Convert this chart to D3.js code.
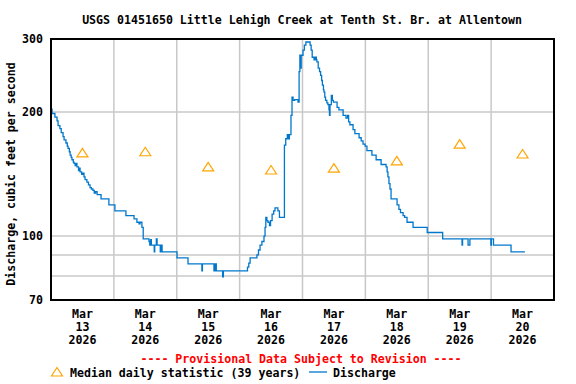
<!DOCTYPE html>
<html lang="en">
<head>
<meta charset="UTF-8">
<title>USGS 01451650 Discharge</title>
<script src="https://d3js.org/d3.v7.min.js"></script>
<style>
    body { margin: 0; background: #fff; }
    svg { display: block; }
    text { font-family: "DejaVu Sans Mono", monospace; font-weight: bold; font-size: 11.6px; fill: #000; }
</style>
</head>
<body>
<svg id="chart" width="576" height="384"></svg>
<script>
// hours since Mar 13 2026 00:00 and discharge (cfs), 15-min record thinned to its steps
const flowHours = [
    0.0, 0.4, 1.5, 2.3, 2.7, 3.4, 3.9, 4.6, 5.0, 5.7, 6.2, 6.5, 7.0, 7.3, 7.7, 8.0, 8.5, 8.8, 9.2, 9.5,
    9.9, 10.5, 10.8, 11.1, 11.7, 12.2, 12.6, 13.0, 13.7, 14.3, 14.9, 15.4, 16.0, 16.5, 17.0, 17.6, 19.1, 22.1, 24.4, 28.6,
    31.7, 32.8, 33.6, 34.0, 34.7, 35.2, 37.4, 37.7, 38.0, 38.3, 39.4, 39.6, 40.2, 40.5, 41.7, 41.9, 42.4, 48.1, 52.3, 57.6,
    57.8, 62.2, 62.6, 63.1, 65.5, 65.8, 75.0, 75.5, 76.0, 78.6, 79.2, 79.8, 80.5, 81.3, 81.7, 82.0, 82.4, 82.8, 83.4, 83.8,
    84.4, 85.0, 85.5, 86.6, 87.2, 89.1, 89.6, 90.2, 90.5, 91.0, 91.6, 92.0, 92.4, 93.0, 94.3, 94.7, 95.0, 95.2, 95.5, 96.2,
    96.7, 97.3, 98.9, 99.3, 99.7, 100.4, 100.8, 101.3, 101.5, 102.0, 102.5, 102.9, 103.3, 103.6, 104.0, 104.2, 104.5, 104.8, 105.3, 105.7,
    106.1, 106.3, 106.5, 107.0, 107.4, 107.8, 109.2, 109.9, 111.5, 112.6, 113.2, 113.6, 114.1, 115.3, 116.0, 117.6, 118.4, 119.1, 119.9, 120.6,
    122.5, 124.1, 126.0, 127.9, 128.3, 128.6, 129.0, 129.4, 129.8, 132.1, 132.8, 133.4, 134.4, 135.0, 135.9, 138.2, 143.6, 149.5, 156.9, 157.1,
    159.2, 159.9, 167.9, 168.1, 168.9, 169.5, 175.6, 180.9
];
const flowValues = [
    203, 198, 194, 190, 185, 182, 178, 174, 171, 168, 165, 163, 160, 157, 155, 153, 151, 150, 148, 150,
    147, 144, 146, 143, 141, 142, 139, 137, 135, 133, 131, 130, 129, 127, 128, 126, 123, 119, 115, 112,
    110, 108, 107, 108, 105, 98.4, 97, 95.1, 98, 95.1, 91.5, 95.1, 98.4, 95.1, 91.5, 95.1, 91.5, 88.5, 85.6, 82.3,
    85.6, 82.3, 85.6, 82.3, 79.6, 82.3, 84.1, 86, 88.5, 90, 92.5, 95.1, 97, 100, 105, 111, 109, 108, 106, 109,
    113, 115, 117, 115, 111, 166, 172, 176, 172, 176, 196, 217, 213, 214, 211, 250, 274, 255, 274, 282,
    290, 295, 290, 282, 271, 267, 271, 267, 264, 255, 250, 245, 238, 232, 226, 223, 217, 213, 210, 208,
    202, 196, 208, 219, 213, 211, 205, 202, 196, 193, 196, 189, 186, 181, 177, 173, 170, 167, 165, 161,
    157, 153, 149, 147, 143, 139, 134, 130, 123, 119, 116, 114, 112, 111, 108, 105, 102, 98.4, 95.1, 98.4,
    95.1, 98.4, 95.1, 98.4, 95.1, 95.1, 91.5, 91.5
];

const medianDays = ["2026-03-13", "2026-03-14", "2026-03-15", "2026-03-16", "2026-03-17", "2026-03-18", "2026-03-19", "2026-03-20"];
const medianValues = [159, 160, 147, 144.5, 146, 152, 167, 158];

const yTickValues = [70, 100, 200, 300];
const yGridValues = [80, 90, 100, 200];

const title = "USGS 01451650 Little Lehigh Creek at Tenth St. Br. at Allentown";
const yTitle = "Discharge, cubic feet per second";
const provisional = "---- Provisional Data Subject to Revision ----";

const svg = d3.select("#chart");
const margin = { left: 51, right: 22, top: 39, bottom: 84 };
const width = 576, height = 384;

const start = new Date(2026, 2, 13);
const end = new Date(2026, 2, 21);
const x = d3.scaleTime().domain([start, end]).range([margin.left, width - margin.right]);
const y = d3.scaleLog().domain([70, 300]).range([height - margin.bottom, margin.top]);

const parseDay = d3.timeParse("%Y-%m-%d");
const flow = flowHours.map((h, i) => ({ t: d3.timeMinute.offset(start, Math.round(h * 60)), v: flowValues[i] }));
const medians = medianDays.map((d, i) => ({ t: d3.timeHour.offset(parseDay(d), 12), v: medianValues[i] }));

// grid
const days = d3.timeDay.range(d3.timeDay.offset(start, 1), end);
svg.append("g").selectAll("line").data(days).join("line")
    .attr("x1", d => x(d)).attr("x2", d => x(d))
    .attr("y1", margin.top).attr("y2", height - margin.bottom)
    .attr("stroke", "#c8c8c8").attr("stroke-width", 1.5);
svg.append("g").selectAll("line").data(yGridValues).join("line")
    .attr("x1", margin.left).attr("x2", width - margin.right)
    .attr("y1", d => Math.round(y(d))).attr("y2", d => Math.round(y(d)))
    .attr("stroke", "#c8c8c8").attr("stroke-width", 1.5);

// discharge
const line = d3.line().curve(d3.curveStepAfter).x(d => x(d.t)).y(d => y(d.v));
svg.append("path").datum(flow)
    .attr("fill", "none").attr("stroke", "#0077cc").attr("stroke-width", 1.3)
    .attr("d", line);

// medians
const tri = "M-5.5,4L5.5,4L0,-4.5Z";
svg.append("g").selectAll("path").data(medians).join("path")
    .attr("transform", d => `translate(${x(d.t)},${y(d.v)})`)
    .attr("d", tri).attr("fill", "none").attr("stroke", "#ffa500").attr("stroke-width", 1.2);

// frame
svg.append("rect")
    .attr("x", margin.left).attr("y", margin.top)
    .attr("width", width - margin.left - margin.right)
    .attr("height", height - margin.top - margin.bottom)
    .attr("fill", "none").attr("stroke", "#000").attr("stroke-width", 2);

// y tick labels
svg.append("g").selectAll("text").data(yTickValues).join("text")
    .attr("x", 43).attr("y", d => y(d) + 4)
    .attr("text-anchor", "end")
    .text(d => d);

// x tick labels at noon
const fmt = [d3.timeFormat("%b"), d3.timeFormat("%-d"), d3.timeFormat("%Y")];
const xLabels = svg.append("g").selectAll("text").data(medianDays.map(parseDay)).join("text")
    .attr("text-anchor", "middle");
fmt.forEach((f, i) => {
    xLabels.append("tspan")
        .attr("x", d => x(d3.timeHour.offset(d, 12)))
        .attr("y", 318 + i * 13)
        .text(d => f(d));
});

svg.append("text").attr("x", 302).attr("y", 24).attr("text-anchor", "middle").text(title);

svg.append("text")
    .attr("transform", "translate(15,174) rotate(-90)")
    .attr("text-anchor", "middle")
    .text(yTitle);

svg.append("text").attr("x", 301).attr("y", 363).attr("text-anchor", "middle")
    .style("fill", "#ff0000").text(provisional);

// legend
svg.append("path").attr("transform", "translate(57,372)").attr("d", tri)
    .attr("fill", "none").attr("stroke", "#ffa500").attr("stroke-width", 1.2);
svg.append("text").attr("x", 70).attr("y", 377).text("Median daily statistic (39 years)");
svg.append("line").attr("x1", 309).attr("x2", 327).attr("y1", 372).attr("y2", 372)
    .attr("stroke", "#0077cc").attr("stroke-width", 1.3);
svg.append("text").attr("x", 333).attr("y", 377).text("Discharge");
</script>
</body>
</html>
